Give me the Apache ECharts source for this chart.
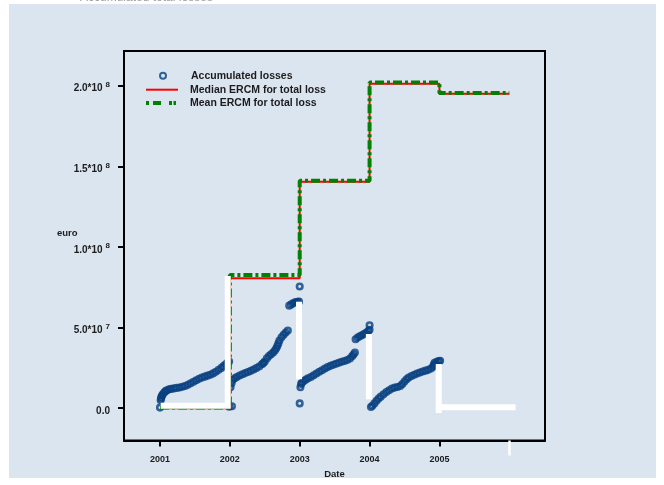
<!DOCTYPE html>
<html>
<head>
<meta charset="utf-8">
<script src="https://cdn.jsdelivr.net/npm/echarts@6/dist/echarts.min.js"></script>
<style>
  html, body { margin: 0; padding: 0; background: #ffffff; }
  #panel { position: absolute; left: 9px; top: 4px; width: 647px; height: 474px; background: #dbe5f0; }
  #chart { position: absolute; left: 0; top: 0; width: 664px; height: 485px; }
</style>
</head>
<body>
<div id="panel"></div>
<div id="chart"></div>
<script>
// Accumulated operational losses (euro), by date as decimal year
const lossYears = [
  2001.00, 2001.01, 2001.015, 2001.02, 2001.03, 2001.04, 2001.06, 2001.08, 2001.10, 2001.13, 2001.16, 2001.20,
  2001.24, 2001.28, 2001.32, 2001.36, 2001.40, 2001.44, 2001.48, 2001.52, 2001.56, 2001.60,
  2001.64, 2001.68, 2001.72, 2001.76, 2001.80, 2001.84, 2001.88, 2001.91, 2001.94, 2001.97,
  2001.99, 2001.99, 2002.03,
  2002.01, 2002.025, 2002.04, 2002.07, 2002.10, 2002.14, 2002.18, 2002.22, 2002.26, 2002.30, 2002.34,
  2002.38, 2002.42, 2002.46, 2002.48, 2002.50, 2002.53, 2002.56, 2002.59, 2002.62, 2002.645, 2002.665, 2002.68,
  2002.695, 2002.71, 2002.74, 2002.77, 2002.80, 2002.83, 2002.85, 2002.88, 2002.91, 2002.94, 2002.97,
  2002.99, 2003.00, 2003.00,
  2003.01, 2003.02, 2003.03, 2003.06, 2003.09, 2003.12, 2003.16, 2003.20, 2003.24, 2003.28, 2003.32,
  2003.36, 2003.40, 2003.44, 2003.48, 2003.52, 2003.56, 2003.60, 2003.64, 2003.68, 2003.72,
  2003.75, 2003.77, 2003.79, 2003.80, 2003.83, 2003.86, 2003.89, 2003.92, 2003.95, 2003.98, 2004.00,
  2004.00,
  2004.02, 2004.04, 2004.07, 2004.10, 2004.13, 2004.16, 2004.20, 2004.24, 2004.28, 2004.32,
  2004.36, 2004.40, 2004.44, 2004.47, 2004.50, 2004.53, 2004.56, 2004.60, 2004.64, 2004.68,
  2004.72, 2004.76, 2004.80, 2004.84, 2004.88, 2004.91, 2004.92, 2004.93, 2004.96, 2004.99, 2005.01
];
const lossValues = [
  0.4e6, 5.0e6, 6.0e6, 7.0e6, 7.9e6, 8.6e6, 9.8e6, 10.6e6, 11.2e6, 11.7e6, 12.0e6, 12.3e6,
  12.6e6, 12.9e6, 13.3e6, 13.8e6, 14.6e6, 15.5e6, 16.4e6, 17.4e6, 18.3e6, 19.0e6,
  19.6e6, 20.2e6, 20.8e6, 21.6e6, 22.6e6, 23.8e6, 25.0e6, 26.1e6, 27.2e6, 28.3e6,
  29.0e6, 1.0e6, 1.2e6,
  13.0e6, 15.5e6, 17.5e6, 18.6e6, 19.4e6, 20.3e6, 21.1e6, 21.8e6, 22.5e6, 23.2e6, 24.0e6,
  24.9e6, 25.9e6, 27.2e6, 28.0e6, 29.0e6, 30.9e6, 32.4e6, 33.5e6, 34.6e6, 35.8e6, 37.2e6, 38.6e6,
  40.2e6, 42.0e6, 44.0e6, 45.6e6, 47.0e6, 48.2e6, 63.6e6, 64.4e6, 65.2e6, 65.8e6, 66.0e6,
  66.1e6, 75.5e6, 3.0e6,
  13.0e6, 15.0e6, 15.8e6, 16.9e6, 17.8e6, 18.6e6, 19.4e6, 20.4e6, 21.5e6, 22.6e6, 23.6e6,
  24.6e6, 25.5e6, 26.3e6, 27.0e6, 27.6e6, 28.2e6, 28.8e6, 29.3e6, 29.9e6, 30.8e6,
  32.2e6, 33.3e6, 34.5e6, 42.8e6, 43.8e6, 44.6e6, 45.3e6, 46.0e6, 46.8e6, 47.8e6, 48.6e6,
  51.5e6,
  0.8e6, 1.5e6, 3.0e6, 4.6e6, 6.0e6, 7.2e6, 8.6e6, 10.0e6, 11.2e6, 12.2e6,
  12.8e6, 13.2e6, 13.8e6, 15.0e6, 16.6e6, 18.0e6, 19.0e6, 20.0e6, 20.8e6, 21.5e6,
  22.2e6, 22.8e6, 23.3e6, 23.8e6, 24.6e6, 25.8e6, 27.0e6, 28.2e6, 28.8e6, 29.2e6, 29.4e6
];

// ERCM estimates per year (step functions)
const ercmYears   = [2001, 2002, 2003, 2004, 2005, 2006];
const medianErcm  = [0, 80.6e6, 140.5e6, 201.2e6, 195.0e6, 195.0e6];
const meanErcm    = [0.4e6, 82.6e6, 141.1e6, 201.9e6, 195.5e6, 195.5e6];

// White trace segments (null separates pieces)
const traceYears  = [2001.01, 2001.97, 2001.97, null, 2002.99, 2002.99, null,
                     2003.99, 2003.99, null, 2004.99, 2004.99, null, 2004.95, 2006.09];
const traceValues = [1.6e6, 1.6e6, 82.0e6, null, 66.0e6, 18.0e6, null,
                     46.0e6, 5.6e6, null, 27.4e6, -3.0e6, null, 0.6e6, 0.6e6];

// Axis ticks
const yearTicks  = [2001, 2002, 2003, 2004, 2005];
const extraTick  = [2006];
const euroTicks  = [0, 5e7, 1e8, 1.5e8, 2e8];

const FONT = '"Liberation Sans", Arial, sans-serif';
const INK = '#1c1c1c';
const NAVY = '#08407f';
const RED = '#ff0000';
const GREEN = '#028002';

const lossData = lossYears.map((x, i) => [x, lossValues[i]]);
const medianData = ercmYears.map((x, i) => [x, medianErcm[i]]);
const meanData = ercmYears.map((x, i) => [x, meanErcm[i]]);
const traceData = traceYears.map((x, i) => (x === null ? '-' : [x, traceValues[i]]));

function sciLabel(v) {
  if (v === 0) return '{m|0.0}';
  const parts = v.toExponential(1).split('e');
  return '{m|' + parts[0] + '*10}{e|' + parseInt(parts[1], 10) + '}';
}

const legendText = {
  fontFamily: FONT, fontSize: 10.5, fontWeight: 'bold', color: INK, lineHeight: 13
};

const chart = echarts.init(document.getElementById('chart'), null, { renderer: 'canvas' });
chart.setOption({
  backgroundColor: 'transparent',
  animation: false,
  title: [
    {
      text: 'Accumulated total losses',
      left: 80, top: -8, padding: 0,
      textStyle: { fontFamily: FONT, fontSize: 12, fontWeight: 'normal', color: '#a0a0a0' }
    },
    {
      text: 'euro',
      left: 57, top: 228, padding: 0,
      textStyle: { fontFamily: FONT, fontSize: 9.5, fontWeight: 'bold', color: INK }
    }
  ],
  legend: [
    {
      data: ['Accumulated losses'],
      left: 159, top: 69.2, padding: 0,
      itemWidth: 6, itemHeight: 6,
      textStyle: Object.assign({ padding: [0, 0, 0, 20] }, legendText)
    },
    {
      data: [{ name: 'Median ERCM for total loss', icon: 'rect' }],
      left: 146, top: 83.2, padding: 0,
      itemWidth: 32, itemHeight: 2,
      itemStyle: { borderWidth: 0 },
      textStyle: Object.assign({ padding: [0, 0, 0, 7] }, legendText)
    },
    {
      data: [{
        name: 'Mean ERCM for total loss',
        icon: 'path://M0,0H3V4H0Z M7,0H15V4H7Z M23,0H26V4H23Z M27.5,0H30V4H27.5Z'
      }],
      left: 146, top: 96.5, padding: 0,
      itemWidth: 30, itemHeight: 4,
      itemStyle: { borderWidth: 0 },
      textStyle: Object.assign({ padding: [0, 0, 0, 9] }, legendText)
    }
  ],
  grid: {
    left: 124, right: 119, top: 51, bottom: 44.5,
    show: true, borderColor: '#000', borderWidth: 2, backgroundColor: 'transparent'
  },
  xAxis: [
    {
      type: 'value', min: 2000.485, max: 2006.511,
      name: 'Date', nameLocation: 'middle', nameGap: 27,
      nameTextStyle: { fontFamily: FONT, fontSize: 9.5, fontWeight: 'bold', color: INK },
      axisLine: { show: true, onZero: false, lineStyle: { color: '#000', width: 2 } },
      axisTick: { show: true, customValues: yearTicks, length: 6, lineStyle: { color: '#000', width: 2 } },
      axisLabel: {
        customValues: yearTicks, margin: 15,
        formatter: v => String(v),
        fontFamily: FONT, fontSize: 9, fontWeight: 'bold', color: INK
      },
      splitLine: { show: false }
    },
    {
      type: 'value', min: 2000.485, max: 2006.511, position: 'bottom',
      axisLine: { show: false, onZero: false },
      axisTick: { show: true, customValues: extraTick, length: 15, lineStyle: { color: '#ffffff', width: 2.5 } },
      axisLabel: { show: false },
      splitLine: { show: false }
    }
  ],
  yAxis: {
    type: 'value', min: -20e6, max: 221.5e6,
    axisLine: { show: true, onZero: false, lineStyle: { color: '#000', width: 2 } },
    axisTick: { show: true, customValues: euroTicks, length: 6, lineStyle: { color: '#000', width: 2 } },
    axisLabel: {
      customValues: euroTicks, margin: 14,
      formatter: sciLabel,
      padding: [6, 0, 0, 0],
      rich: {
        m: { fontFamily: FONT, fontSize: 10, fontWeight: 'bold', color: INK },
        e: { fontFamily: FONT, fontSize: 8, fontWeight: 'bold', color: INK, padding: [0, 0, 8, 3] }
      }
    },
    splitLine: { show: false }
  },
  series: [
    {
      name: 'Accumulated losses', type: 'scatter', data: lossData,
      symbol: 'circle', symbolSize: 5.5,
      itemStyle: { color: 'rgba(0,0,0,0)', borderColor: NAVY, borderWidth: 2.6 },
      z: 2
    },
    {
      name: 'Median ERCM for total loss', type: 'line', data: medianData, step: 'end',
      showSymbol: false, symbol: 'none',
      lineStyle: { color: RED, width: 2 },
      itemStyle: { color: RED },
      z: 3
    },
    {
      name: 'Mean ERCM for total loss', type: 'line', data: meanData, step: 'end',
      showSymbol: false, symbol: 'none',
      lineStyle: { color: GREEN, width: 4, type: [9, 3, 3, 3] },
      itemStyle: { color: GREEN },
      z: 4
    },
    {
      name: 'trace', type: 'line', data: traceData,
      showSymbol: false, symbol: 'none', connectNulls: false,
      lineStyle: { color: '#ffffff', width: 6, cap: 'butt', join: 'miter' },
      z: 5, silent: true
    }
  ]
});
</script>
</body>
</html>
